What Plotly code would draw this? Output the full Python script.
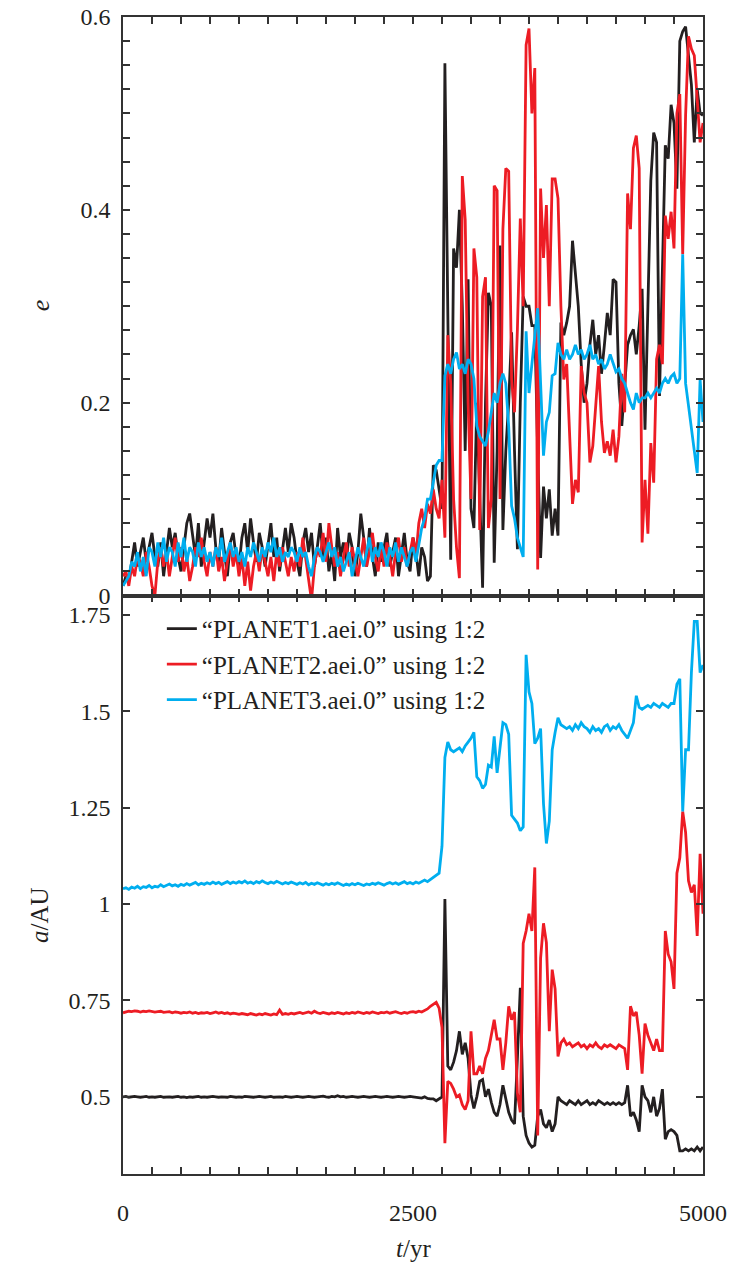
import plotly.graph_objects as go
from plotly.subplots import make_subplots

# time grid (yr)
T = list(range(0, 5001, 25))

NAMES = ["\u201cPLANET1.aei.0\u201d using 1:2",
         "\u201cPLANET2.aei.0\u201d using 1:2",
         "\u201cPLANET3.aei.0\u201d using 1:2"]
COLORS = ["#231f20", "#ed1c24", "#00aeef"]

# ---------------- eccentricity e ----------------
E1_calm = [
    0.01, 0.02, 0.015, 0.035, 0.055, 0.03, 0.045, 0.06, 0.035, 0.05,
    0.065, 0.04, 0.03, 0.055, 0.02, 0.045, 0.07, 0.05, 0.065, 0.04,
    0.025, 0.05, 0.075, 0.085, 0.06, 0.04, 0.075, 0.03, 0.055, 0.08,
    0.06, 0.085, 0.05, 0.035, 0.07, 0.045, 0.02, 0.055, 0.065, 0.04,
    0.03, 0.06, 0.075, 0.045, 0.08, 0.055, 0.035, 0.065, 0.05, 0.03,
    0.05, 0.075, 0.04, 0.06, 0.025, 0.05, 0.07, 0.045, 0.075, 0.06,
    0.035, 0.02, 0.055, 0.07, 0.045, 0.065, 0.03, 0.05, 0.075, 0.04,
    0.06, 0.025, 0.045, 0.015, 0.07, 0.04, 0.055, 0.035, 0.065, 0.05,
    0.02, 0.045, 0.085, 0.06, 0.03, 0.07, 0.04, 0.02, 0.055, 0.035,
    0.05, 0.065, 0.03, 0.045, 0.06, 0.02, 0.04, 0.065, 0.035, 0.025,
    0.06, 0.045, 0.02, 0.05, 0.04, 0.015, 0.02]
E1_chaos = [
    0.135,
    0.13, 0.11, 0.09, 0.552,
    0.27, 0.037, 0.36, 0.34,
    0.40, 0.30, 0.15, 0.328,
    0.09, 0.07, 0.20, 0.10,
    0.008, 0.20, 0.314, 0.30,
    0.034, 0.15, 0.363, 0.068,
    0.15, 0.20, 0.273, 0.15,
    0.048, 0.20, 0.31, 0.30,
    0.30, 0.28, 0.28, 0.15,
    0.039, 0.113, 0.08, 0.11,
    0.062, 0.09, 0.062, 0.283,
    0.27, 0.283, 0.30, 0.368,
    0.33, 0.30, 0.24, 0.20,
    0.22, 0.26, 0.286, 0.25,
    0.27, 0.23, 0.26, 0.293,
    0.27, 0.328, 0.325, 0.22,
    0.176, 0.22, 0.26, 0.27,
    0.276, 0.25, 0.28, 0.318,
    0.172, 0.30, 0.43, 0.48,
    0.47, 0.207, 0.35, 0.467,
    0.453, 0.509, 0.49, 0.422,
    0.575, 0.585, 0.59, 0.557,
    0.53, 0.47, 0.525, 0.50,
    0.498]

E2_calm = [
    0.02, 0.025, 0.01, 0.03, 0.02, 0.04, 0.035, 0.02, 0.045, 0.03,
    0.01, 0.0, 0.035, 0.05, 0.03, 0.045, 0.02, 0.04, 0.06, 0.035,
    0.05, 0.025, 0.04, 0.015, 0.03, 0.05, 0.04, 0.06, 0.035, 0.02,
    0.045, 0.03, 0.05, 0.025, 0.04, 0.015, 0.035, 0.055, 0.03, 0.045,
    0.02, 0.04, 0.01, 0.035, 0.005, 0.03, 0.045, 0.025, 0.05, 0.035,
    0.02, 0.04, 0.015, 0.045, 0.03, 0.05, 0.035, 0.02, 0.04, 0.025,
    0.045, 0.03, 0.06, 0.04, 0.02, -0.005, 0.03, 0.05, 0.04, 0.065,
    0.035, 0.075, 0.05, 0.03, 0.045, 0.02, 0.04, 0.055, 0.03, 0.05,
    0.035, 0.02, 0.04, 0.06, 0.03, 0.045, 0.065, 0.04, 0.025, 0.05,
    0.03, 0.055, 0.04, 0.02, 0.045, 0.06, 0.035, 0.05, 0.03, 0.045,
    0.06, 0.04, 0.075, 0.09, 0.07, 0.095, 0.085]
E2_chaos = [
    0.11,
    0.09, 0.08, 0.12, 0.06,
    0.27, 0.22, 0.10, 0.05,
    0.018, 0.435, 0.39, 0.20,
    0.10, 0.36, 0.33, 0.068,
    0.31, 0.33, 0.07, 0.10,
    0.425, 0.42, 0.10, 0.38,
    0.443, 0.44, 0.224, 0.19,
    0.276, 0.391, 0.30, 0.571,
    0.588, 0.50, 0.547, 0.027,
    0.422, 0.35, 0.405, 0.30,
    0.432, 0.432, 0.412, 0.30,
    0.224, 0.24, 0.16, 0.095,
    0.12, 0.107, 0.238, 0.21,
    0.20, 0.138, 0.155, 0.20,
    0.238, 0.18, 0.148, 0.16,
    0.145, 0.172, 0.138, 0.165,
    0.23, 0.19, 0.417, 0.38,
    0.464, 0.477, 0.443, 0.055,
    0.12, 0.064, 0.158, 0.117,
    0.245, 0.26, 0.24, 0.394,
    0.37, 0.398, 0.36, 0.50,
    0.52, 0.354, 0.498, 0.58,
    0.567, 0.56, 0.515, 0.47,
    0.49]

E3_calm = [
    0.01, 0.015, 0.02, 0.035, 0.03, 0.045, 0.025, 0.04, 0.02, 0.05,
    0.045, 0.03, 0.055, 0.04, 0.06, 0.035, 0.05, 0.045, 0.03, 0.055,
    0.04, 0.06, 0.035, 0.05, 0.045, 0.03, 0.055, 0.04, 0.05, 0.035,
    0.045, 0.03, 0.05, 0.04, 0.06, 0.035, 0.045, 0.055, 0.04, 0.05,
    0.035, 0.045, 0.03, 0.05, 0.04, 0.055, 0.045, 0.035, 0.05, 0.04,
    0.055, 0.045, 0.06, 0.04, 0.05, 0.035, 0.045, 0.04, 0.05, 0.045,
    0.035, 0.05, 0.04, 0.045, 0.03, 0.02, 0.04, 0.05, 0.045, 0.035,
    0.045, 0.055, 0.04, 0.05, 0.03, 0.04, 0.025, 0.035, 0.045, 0.02,
    0.035, 0.05, 0.04, 0.03, 0.045, 0.06, 0.035, 0.05, 0.04, 0.055,
    0.045, 0.03, 0.05, 0.04, 0.055, 0.035, 0.05, 0.04, 0.03, 0.045,
    0.05, 0.035, 0.055, 0.07, 0.08, 0.10, 0.10]
E3_chaos = [
    0.12,
    0.135, 0.14, 0.14, 0.228,
    0.24, 0.23, 0.245, 0.252,
    0.235, 0.24, 0.23, 0.245,
    0.24, 0.225, 0.176, 0.165,
    0.16, 0.155, 0.17, 0.193,
    0.21, 0.20, 0.22, 0.23,
    0.22, 0.175, 0.093, 0.08,
    0.06, 0.05, 0.04, 0.274,
    0.21, 0.24, 0.27, 0.298,
    0.22, 0.145, 0.18, 0.19,
    0.228, 0.23, 0.262, 0.25,
    0.245, 0.255, 0.245, 0.25,
    0.26, 0.25, 0.255, 0.245,
    0.25, 0.26, 0.245, 0.25,
    0.24, 0.245, 0.235, 0.24,
    0.25, 0.24, 0.232, 0.235,
    0.225, 0.22, 0.21, 0.20,
    0.193, 0.21, 0.20, 0.205,
    0.205, 0.21, 0.205, 0.21,
    0.215, 0.21, 0.22, 0.225,
    0.22, 0.227, 0.23, 0.22,
    0.225, 0.354, 0.22, 0.197,
    0.17, 0.15, 0.127, 0.224,
    0.18]

# ---------------- semi-major axis a (AU) ----------------
A1_calm = [
    0.500, 0.501, 0.499, 0.500, 0.501, 0.500, 0.499, 0.500, 0.501, 0.499,
    0.500, 0.499, 0.500, 0.501, 0.499, 0.500, 0.500, 0.499, 0.500, 0.501,
    0.499, 0.500, 0.498, 0.500, 0.499, 0.500, 0.501, 0.499, 0.500, 0.499,
    0.500, 0.501, 0.500, 0.499, 0.500, 0.500, 0.499, 0.501, 0.500, 0.499,
    0.500, 0.499, 0.501, 0.500, 0.500, 0.499, 0.500, 0.501, 0.500, 0.499,
    0.500, 0.501, 0.499, 0.500, 0.500, 0.499, 0.501, 0.500, 0.499, 0.500,
    0.501, 0.500, 0.499, 0.500, 0.501, 0.500, 0.499, 0.500, 0.501, 0.502,
    0.500, 0.499, 0.501, 0.500, 0.503, 0.500, 0.501, 0.499, 0.500, 0.501,
    0.500, 0.499, 0.500, 0.501, 0.500, 0.499, 0.500, 0.501, 0.500, 0.499,
    0.500, 0.501, 0.500, 0.499, 0.500, 0.501, 0.500, 0.499, 0.500, 0.501,
    0.500, 0.499, 0.498, 0.497, 0.500, 0.496, 0.495]
A1_chaos = [
    0.495,
    0.49, 0.495, 0.50, 1.013,
    0.58, 0.57, 0.59, 0.62,
    0.67, 0.61, 0.64, 0.60,
    0.505, 0.47, 0.50, 0.54,
    0.545, 0.50, 0.52, 0.486,
    0.46, 0.45, 0.48, 0.53,
    0.49, 0.46, 0.44, 0.43,
    0.60, 0.783, 0.45, 0.40,
    0.38, 0.37, 0.375, 0.45,
    0.467, 0.43, 0.42, 0.44,
    0.41, 0.43, 0.50, 0.49,
    0.485, 0.48, 0.49, 0.485,
    0.48, 0.49, 0.48, 0.485,
    0.49, 0.48, 0.485, 0.48,
    0.49, 0.485, 0.48, 0.485,
    0.48, 0.485, 0.48, 0.485,
    0.48, 0.485, 0.53, 0.45,
    0.46, 0.44, 0.41, 0.53,
    0.50, 0.49, 0.46, 0.50,
    0.45, 0.47, 0.52, 0.39,
    0.41, 0.415, 0.41, 0.40,
    0.36, 0.36, 0.365, 0.36,
    0.365, 0.36, 0.37, 0.36,
    0.37]

A2_calm = [
    0.718, 0.720, 0.722, 0.721, 0.723, 0.722, 0.720, 0.722, 0.721, 0.723,
    0.722, 0.720, 0.721, 0.722, 0.719, 0.720, 0.721, 0.718, 0.720, 0.719,
    0.717, 0.719, 0.718, 0.720, 0.717, 0.719, 0.716, 0.718, 0.717, 0.719,
    0.716, 0.718, 0.720, 0.717, 0.719, 0.716, 0.718, 0.715, 0.717, 0.716,
    0.714, 0.716, 0.715, 0.713, 0.716, 0.714, 0.712, 0.715, 0.713, 0.716,
    0.714, 0.712, 0.715, 0.713, 0.725, 0.714, 0.716, 0.714, 0.717, 0.715,
    0.717, 0.719, 0.716, 0.718, 0.720, 0.717, 0.722, 0.718, 0.716, 0.719,
    0.717, 0.715, 0.718, 0.716, 0.719, 0.717, 0.715, 0.718, 0.716, 0.719,
    0.717, 0.720, 0.718, 0.716, 0.719, 0.717, 0.720, 0.718, 0.716, 0.719,
    0.718, 0.720, 0.717, 0.719, 0.721, 0.718, 0.716, 0.719, 0.717, 0.720,
    0.721, 0.719, 0.722, 0.720, 0.724, 0.728, 0.735]
A2_chaos = [
    0.74,
    0.745, 0.73, 0.68, 0.38,
    0.54, 0.535, 0.52, 0.50,
    0.505, 0.48, 0.467, 0.49,
    0.67, 0.56, 0.56, 0.58,
    0.56, 0.60, 0.62, 0.66,
    0.70, 0.65, 0.65, 0.57,
    0.64, 0.735, 0.70, 0.72,
    0.51, 0.46, 0.898, 0.93,
    0.975, 0.93, 1.095, 0.40,
    0.86, 0.95, 0.90, 0.67,
    0.83, 0.78, 0.605, 0.64,
    0.65, 0.635, 0.64, 0.63,
    0.635, 0.64, 0.63, 0.635,
    0.625, 0.635, 0.63, 0.64,
    0.63, 0.625, 0.635, 0.63,
    0.635, 0.63, 0.625, 0.635,
    0.63, 0.625, 0.57, 0.735,
    0.71, 0.72, 0.66, 0.56,
    0.69, 0.66, 0.64, 0.62,
    0.65, 0.62, 0.62, 0.93,
    0.87, 0.85, 0.78, 1.08,
    1.12, 1.24, 1.186, 1.06,
    1.03, 1.05, 0.917, 1.13,
    0.975]

A3_calm = [
    1.040, 1.042, 1.038, 1.044, 1.041, 1.046, 1.040, 1.045, 1.043, 1.048,
    1.042, 1.046, 1.044, 1.050, 1.045, 1.048, 1.052, 1.047, 1.050, 1.046,
    1.051, 1.048, 1.053, 1.049, 1.052, 1.056, 1.050, 1.054, 1.051, 1.055,
    1.052, 1.057, 1.053, 1.056, 1.051, 1.055, 1.058, 1.053, 1.057, 1.054,
    1.058, 1.055, 1.060, 1.054, 1.057, 1.053, 1.058, 1.055, 1.060, 1.056,
    1.053, 1.057, 1.054, 1.059, 1.055, 1.052, 1.056, 1.053, 1.057, 1.054,
    1.051, 1.055, 1.052, 1.056, 1.050, 1.054, 1.051, 1.055, 1.052, 1.049,
    1.053, 1.050, 1.054, 1.051, 1.055, 1.052, 1.048, 1.052, 1.049, 1.053,
    1.050, 1.054, 1.051, 1.048, 1.052, 1.050, 1.054, 1.051, 1.055, 1.052,
    1.049, 1.053, 1.056, 1.052, 1.055, 1.051, 1.054, 1.058, 1.053, 1.056,
    1.052, 1.057, 1.054, 1.059, 1.062, 1.058, 1.064]
A3_chaos = [
    1.07,
    1.075, 1.08, 1.15, 1.38,
    1.42, 1.40, 1.395, 1.40,
    1.405, 1.395, 1.41, 1.42,
    1.43, 1.445, 1.33, 1.32,
    1.30, 1.31, 1.36, 1.355,
    1.435, 1.34, 1.40, 1.47,
    1.465, 1.44, 1.23, 1.22,
    1.21, 1.19, 1.20, 1.646,
    1.55, 1.52, 1.416, 1.43,
    1.455, 1.26, 1.157, 1.215,
    1.40, 1.445, 1.483, 1.465,
    1.46, 1.455, 1.46, 1.45,
    1.465, 1.455, 1.47, 1.46,
    1.455, 1.445, 1.46, 1.45,
    1.455, 1.445, 1.46, 1.465,
    1.45, 1.46, 1.455, 1.465,
    1.45, 1.44, 1.43, 1.45,
    1.47, 1.54, 1.51, 1.505,
    1.51, 1.515, 1.51, 1.52,
    1.515, 1.51, 1.52, 1.515,
    1.51, 1.52, 1.52, 1.57,
    1.584, 1.24, 1.40, 1.40,
    1.60, 1.733, 1.733, 1.60,
    1.62]

E = [E1_calm + E1_chaos, E2_calm + E2_chaos, E3_calm + E3_chaos]
A = [A1_calm + A1_chaos, A2_calm + A2_chaos, A3_calm + A3_chaos]
for s in E + A:
    assert len(s) == len(T), len(s)

E_TICKS = [0, 0.2, 0.4, 0.6]
E_LABELS = ["0", "0.2", "0.4", "0.6"]
A_TICKS = [0.5, 0.75, 1.0, 1.25, 1.5, 1.75]
A_LABELS = ["0.5", "0.75", "1", "1.25", "1.5", "1.75"]
T_TICKS = [0, 2500, 5000]
T_LABELS = ["0", "2500", "5000"]

FONT = "Liberation Serif"
TXT = "#231f20"
AX = "#333333"

fig = make_subplots(rows=2, cols=1, shared_xaxes=True, vertical_spacing=0)

for i in range(3):
    fig.add_trace(go.Scatter(x=T, y=E[i], mode="lines", name=NAMES[i],
                             line=dict(color=COLORS[i], width=2.8),
                             showlegend=False, legendgroup=str(i)), row=1, col=1)
for i in range(3):
    fig.add_trace(go.Scatter(x=T, y=A[i], mode="lines", name=NAMES[i],
                             line=dict(color=COLORS[i], width=2.8),
                             showlegend=True, legendgroup=str(i)), row=2, col=1)

axis_common = dict(showline=True, linecolor=AX, linewidth=1.5, mirror="ticks",
                   ticks="inside", tickcolor=AX, tickwidth=1.5, ticklen=7,
                   showgrid=False, zeroline=False, automargin=False,
                   ticklabeloverflow="allow",
                   tickfont=dict(family=FONT, size=24, color=TXT))

fig.update_xaxes(**axis_common, range=[0, 5000], tickvals=T_TICKS, ticktext=T_LABELS,
                 minor=dict(dtick=250, tick0=0, ticks="inside", ticklen=7,
                            tickcolor=AX, tickwidth=1.5, showgrid=False))
fig.update_xaxes(showticklabels=False, row=1, col=1)
fig.update_xaxes(showticklabels=True, ticklabelstandoff=16, row=2, col=1)

fig.update_yaxes(**axis_common, row=1, col=1, range=[0, 0.6],
                 tickvals=E_TICKS, ticktext=E_LABELS, ticklabelstandoff=6,
                 minor=dict(dtick=0.025, tick0=0, ticks="inside", ticklen=7,
                            tickcolor=AX, tickwidth=1.5, showgrid=False))
fig.update_yaxes(**axis_common, row=2, col=1, range=[0.3, 1.8],
                 tickvals=A_TICKS, ticktext=A_LABELS, ticklabelstandoff=6)

fig.update_layout(
    width=731, height=1264,
    margin=dict(l=123, r=28, t=17, b=90, autoexpand=False),
    paper_bgcolor="white", plot_bgcolor="white",
    font=dict(family=FONT, size=24, color=TXT),
    legend=dict(x=0.067, y=0.491, xanchor="left", yanchor="top",
                bgcolor="rgba(0,0,0,0)", font=dict(family=FONT, size=25, color=TXT),
                traceorder="normal", tracegroupgap=0),
    annotations=[
        dict(text="<i>e</i>", xref="paper", yref="paper", x=-0.143, y=0.751,
             xanchor="center", yanchor="middle",
             showarrow=False, textangle=-90, font=dict(family=FONT, size=26, color=TXT)),
        dict(text="<i>a</i>/AU", xref="paper", yref="paper", x=-0.143, y=0.224,
             xanchor="center", yanchor="middle",
             showarrow=False, textangle=-90, font=dict(family=FONT, size=25, color=TXT)),
        dict(text="<i>t</i>/yr", xref="paper", yref="paper", x=0.5, y=-0.064,
             xanchor="center", yanchor="middle",
             showarrow=False, font=dict(family=FONT, size=25, color=TXT)),
    ],
)

# remove the default 8 px page margin so the figure sits at the window origin
fig.write_html("out.html", config={"displayModeBar": False},
               post_script="document.body.style.margin='0';document.body.style.padding='0';")
